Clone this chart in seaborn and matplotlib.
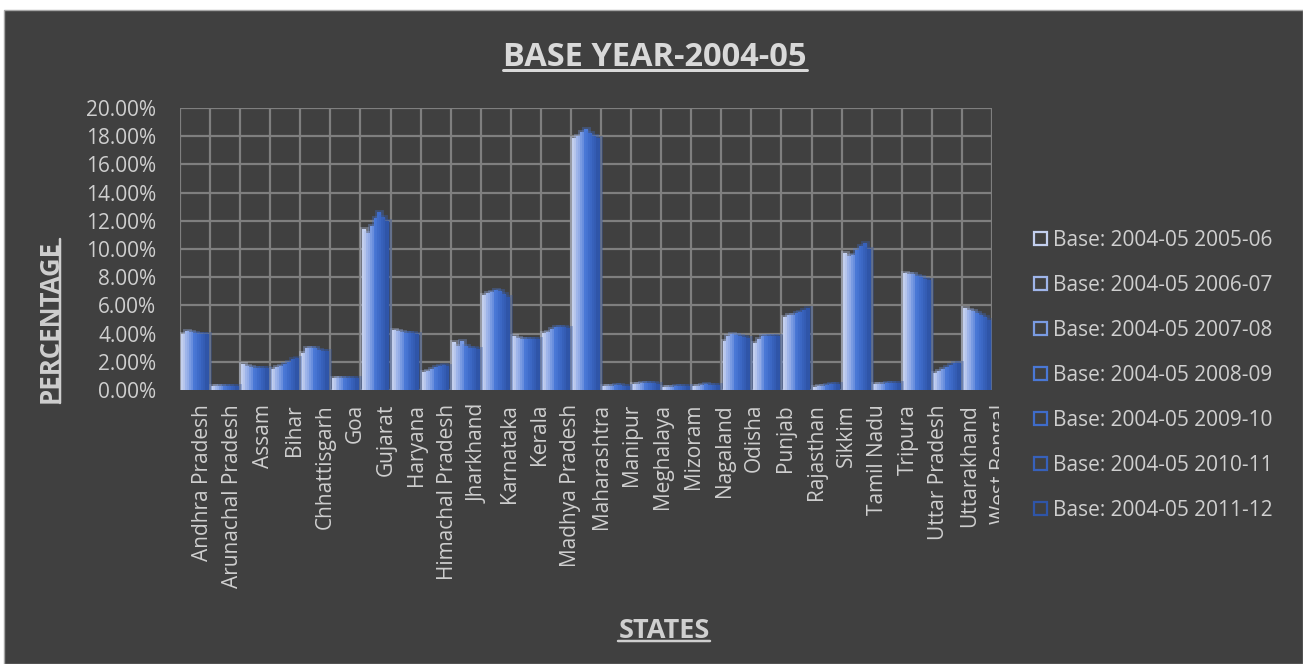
import matplotlib
matplotlib.use("Agg")
import matplotlib.pyplot as plt
import matplotlib.patheffects as pe
from matplotlib.patches import Patch, Rectangle
from matplotlib.lines import Line2D
from matplotlib.transforms import Bbox, IdentityTransform, ScaledTranslation
import seaborn as sns
import pandas as pd

# ---------------- data ----------------
states = ["Andhra Pradesh", "Arunachal Pradesh", "Assam", "Bihar", "Chhattisgarh", "Goa",
          "Gujarat", "Haryana", "Himachal Pradesh", "Jharkhand", "Karnataka", "Kerala",
          "Madhya Pradesh", "Maharashtra", "Manipur", "Meghalaya", "Mizoram", "Nagaland",
          "Odisha", "Punjab", "Rajasthan", "Sikkim", "Tamil Nadu", "Tripura",
          "Uttar Pradesh", "Uttarakhand", "West Bengal"]

periods = ["Base: 2004-05 2005-06", "Base: 2004-05 2006-07", "Base: 2004-05 2007-08",
           "Base: 2004-05 2008-09", "Base: 2004-05 2009-10", "Base: 2004-05 2010-11",
           "Base: 2004-05 2011-12"]

# values in percent
y2005_06 = [4.00, 0.28, 1.85, 1.50, 2.60, 0.82, 11.4, 4.25, 1.30, 3.40, 6.75, 3.80, 4.05, 17.9,
            0.30, 0.40, 0.20, 0.25, 3.50, 3.30, 5.20, 0.20, 9.70, 0.40, 8.30, 1.20, 5.80]
y2006_07 = [4.15, 0.25, 1.70, 1.60, 2.95, 0.82, 11.1, 4.15, 1.35, 3.10, 6.85, 3.70, 4.10, 18.0,
            0.30, 0.45, 0.20, 0.30, 3.80, 3.60, 5.30, 0.25, 9.50, 0.40, 8.25, 1.35, 5.70]
y2007_08 = [4.10, 0.25, 1.60, 1.70, 3.00, 0.85, 11.6, 4.10, 1.50, 3.45, 6.95, 3.65, 4.30, 18.3,
            0.30, 0.50, 0.20, 0.35, 4.00, 3.80, 5.35, 0.30, 9.60, 0.45, 8.20, 1.50, 5.60]
y2008_09 = [4.05, 0.25, 1.55, 1.85, 2.95, 0.85, 12.2, 4.05, 1.60, 3.10, 7.10, 3.60, 4.45, 18.5,
            0.35, 0.50, 0.25, 0.40, 3.90, 3.80, 5.45, 0.35, 9.90, 0.50, 8.10, 1.65, 5.45]
y2009_10 = [4.00, 0.25, 1.55, 2.00, 2.85, 0.85, 12.6, 4.05, 1.70, 3.00, 7.00, 3.60, 4.50, 18.2,
            0.35, 0.50, 0.25, 0.35, 3.80, 3.80, 5.55, 0.40, 10.2, 0.50, 8.00, 1.80, 5.30]
y2010_11 = [4.00, 0.25, 1.55, 2.20, 2.80, 0.85, 12.3, 4.05, 1.75, 2.95, 6.80, 3.60, 4.45, 18.0,
            0.30, 0.50, 0.25, 0.35, 3.75, 3.80, 5.70, 0.40, 10.4, 0.50, 7.90, 1.90, 5.15]
y2011_12 = [3.95, 0.25, 1.55, 2.30, 2.75, 0.85, 12.0, 4.00, 1.70, 2.90, 6.60, 3.60, 4.40, 17.9,
            0.30, 0.45, 0.25, 0.35, 3.70, 3.80, 5.80, 0.40, 10.0, 0.50, 7.80, 1.95, 5.00]

series = [y2005_06, y2006_07, y2007_08, y2008_09, y2009_10, y2010_11, y2011_12]
yticks = [0, 2, 4, 6, 8, 10, 12, 14, 16, 18, 20]

title_text = "BASE YEAR-2004-05"
xlabel_text = "STATES"
ylabel_text = "PERCENTAGE"

# ---------------- style ----------------
BG = "#404040"
GRID = "#7f7f7f"
TXT = "#cfcfcf"
palette = ["#c3cfee", "#9fb5ea", "#7a9be2", "#4a78d6", "#3f6cca", "#3761bb", "#2f55a8"]

sns.set_theme(style="dark")
plt.rcParams["font.family"] = ["Open Sans", "DejaVu Sans"]

W, H = 1303, 664
fig = plt.figure(figsize=(W / 100, H / 100), dpi=100, facecolor="white")
fig.patches.append(Rectangle((4 / W, 0), 1 - 4 / W, 1 - 10 / H, transform=fig.transFigure,
                             facecolor=BG, edgecolor="#a6a6a6", linewidth=1.0, zorder=-10))

ax = fig.add_axes([180 / W, 1 - 390 / H, (992 - 180) / W, (390 - 108) / H])
ax.set_facecolor(BG)

rows = []
for p, vals in zip(periods, series):
    for s, v in zip(states, vals):
        rows.append({"state": s, "period": p, "value": v})
df = pd.DataFrame(rows)

sns.barplot(data=df, x="state", y="value", hue="period", order=states, hue_order=periods,
            palette=palette, saturation=1, width=0.92, ax=ax, legend=False,
            edgecolor="none", linewidth=0, errorbar=None)

for patch in ax.patches:
    c = patch.get_facecolor()
    patch.set_path_effects([pe.Stroke(linewidth=3.5, foreground=c, alpha=0.35), pe.Normal()])

ax.set_xlim(-0.5, len(states) - 0.5)
ax.set_ylim(0, 20)
ax.set_yticks(yticks)
ax.set_yticklabels([f"{t:.2f}%" for t in yticks])
ax.set_xticks(range(len(states)))
ax.set_xticks([i - 0.5 for i in range(len(states) + 1)], minor=True)
ax.set_xticklabels(states, rotation=90, ha="center", va="top")

ax.grid(False)
ax.grid(True, axis="y", which="major", color=GRID, linewidth=1.6)
ax.grid(True, axis="x", which="minor", color=GRID, linewidth=1.6)
ax.set_axisbelow(True)
for sp in ax.spines.values():
    sp.set_visible(False)
ax.tick_params(axis="both", which="both", length=0, colors=TXT, labelsize=15)
ax.tick_params(axis="y", pad=17)
ax.tick_params(axis="x", pad=10)
ax.set_xlabel("")
ax.set_ylabel("")

# legend
handles = [Patch(facecolor="none", edgecolor=c, linewidth=1.6) for c in palette]
fig.legend(handles, periods, loc="upper left", bbox_to_anchor=(1034 / W, 1 - 230 / H),
           frameon=False, fontsize=15, labelcolor=TXT, handlelength=0.62, handleheight=0.62,
           handletextpad=0.3, labelspacing=1.15, borderpad=0, borderaxespad=0)

# titles
t_title = fig.text(655 / W, 1 - 57 / H, title_text, ha="center", va="center",
                   fontsize=23.5, fontweight="bold", color="#d9d9d9")
t_x = fig.text(664 / W, 1 - 631 / H, xlabel_text, ha="center", va="center",
               fontsize=19.5, fontweight="bold", color=TXT)
t_y = fig.text(50 / W, 1 - 321 / H, ylabel_text, ha="center", va="center", rotation=90,
               fontsize=18.5, fontweight="bold", color=TXT)

fig.canvas.draw()
r = fig.canvas.get_renderer()

# the reference's category labels drift slightly to the right; last one is clipped
labels = ax.get_xticklabels()
for i, lab in enumerate(labels):
    dx = (7 + 0.63 * i) / 100.0
    lab.set_transform(lab.get_transform() + ScaledTranslation(dx, 0, fig.dpi_scale_trans))
labels[-1].set_clip_box(Bbox.from_extents(0, 0, 999, H))
labels[-1].set_clip_on(True)

for t, lw in [(t_title, 3.0), (t_x, 2.5)]:
    bb = t.get_window_extent(r)
    y = bb.y0 + 0.12 * bb.height
    fig.add_artist(Line2D([bb.x0, bb.x1], [y, y], transform=IdentityTransform(),
                          color=t.get_color(), linewidth=lw * 0.72))
bb = t_y.get_window_extent(r)
x = bb.x1 - 0.12 * bb.width
fig.add_artist(Line2D([x, x], [bb.y0, bb.y1], transform=IdentityTransform(),
                      color=t_y.get_color(), linewidth=2.5 * 0.72))

fig.savefig("out.png", dpi=100, facecolor=fig.get_facecolor())
